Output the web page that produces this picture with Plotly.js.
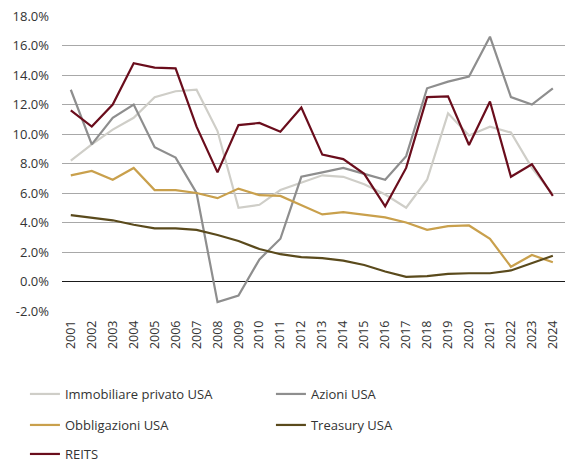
<!DOCTYPE html>
<html>
<head>
<meta charset="utf-8">
<script src="https://cdn.plot.ly/plotly-3.0.1.min.js"></script>
<style>
  html, body { margin: 0; padding: 0; background: #fff; }
  #chart { width: 580px; height: 475px; }
</style>
</head>
<body>
<div id="chart"></div>
<script>
// Rendimenti annui (%) per classe di attivita, 2001-2024
const years = ['2001', '2002', '2003', '2004', '2005', '2006', '2007', '2008', '2009', '2010', '2011', '2012',
               '2013', '2014', '2015', '2016', '2017', '2018', '2019', '2020', '2021', '2022', '2023', '2024'];

const immobiliarePrivato = [8.2, 9.3, 10.3, 11.1, 12.5, 12.9, 13.0, 10.2, 5.0, 5.2, 6.2, 6.7,
                            7.2, 7.1, 6.6, 5.9, 5.0, 6.9, 11.4, 9.9, 10.5, 10.1, 7.7, 5.9];
const azioni = [13.0, 9.3, 11.1, 12.0, 9.1, 8.4, 6.0, -1.4, -0.95, 1.5, 2.9, 7.1,
                7.4, 7.7, 7.3, 6.9, 8.5, 13.1, 13.55, 13.9, 16.6, 12.5, 12.0, 13.1];
const obbligazioni = [7.2, 7.5, 6.9, 7.7, 6.2, 6.2, 6.0, 5.65, 6.3, 5.85, 5.8, 5.2,
                      4.55, 4.7, 4.5, 4.35, 4.0, 3.5, 3.75, 3.8, 2.9, 1.0, 1.8, 1.3];
const treasury = [4.5, 4.35, 4.15, 3.85, 3.6, 3.6, 3.5, 3.15, 2.75, 2.2, 1.85, 1.65,
                  1.58, 1.42, 1.12, 0.68, 0.32, 0.36, 0.52, 0.56, 0.56, 0.75, 1.25, 1.75];
const reits = [11.6, 10.5, 12.0, 14.8, 14.5, 14.45, 10.5, 7.4, 10.6, 10.75, 10.15, 11.8,
               8.6, 8.3, 7.3, 5.1, 7.7, 12.5, 12.55, 9.25, 12.2, 7.1, 7.95, 5.8];

const yTicks = [-2, 0, 2, 4, 6, 8, 10, 12, 14, 16, 18];

const FONT = 'Open Sans, DejaVu Sans, sans-serif';
const TEXT_COLOR = '#333333';

function line(name, y, color, legend) {
    return {
        x: years,
        y: y,
        name: name,
        type: 'scatter',
        mode: 'lines',
        line: { color: color, width: 2.2 },
        legend: legend,
        hoverinfo: 'skip'
    };
}

const traces = [
    line('Immobiliare privato USA', immobiliarePrivato, '#cfcec8', 'legend'),
    line('Azioni USA', azioni, '#8e8e8e', 'legend'),
    line('Obbligazioni USA', obbligazioni, '#c9a04c', 'legend2'),
    line('Treasury USA', treasury, '#5a4a1c', 'legend2'),
    line('REITS', reits, '#6a0d1c', 'legend3')
];

// one legend per row, so the rows can sit as far apart as in the original
function legendRow(yPx) {
    return {
        orientation: 'h',
        xref: 'container',
        yref: 'container',
        x: 0.043,
        xanchor: 'left',
        y: 1 - yPx / 475,
        yanchor: 'middle',
        entrywidth: 201,
        entrywidthmode: 'pixels',
        itemwidth: 30,
        font: { family: FONT, size: 13, color: TEXT_COLOR },
        bgcolor: 'rgba(0,0,0,0)'
    };
}

const layout = {
    width: 580,
    height: 475,
    paper_bgcolor: '#ffffff',
    plot_bgcolor: '#ffffff',
    font: { family: FONT, size: 13, color: TEXT_COLOR },
    margin: { t: 16, b: 164, l: 62, r: 15 },
    showlegend: true,
    legend: legendRow(394),
    legend2: legendRow(425),
    legend3: legendRow(454),
    xaxis: {
        type: 'category',
        range: [-0.42, 23.58],
        tickangle: -90,
        ticks: '',
        showgrid: false,
        zeroline: false,
        showline: false,
        ticklabelstandoff: 6,
        tickfont: { family: FONT, size: 12.5, color: TEXT_COLOR }
    },
    yaxis: {
        range: [-2, 18],
        tickvals: yTicks,
        ticktext: yTicks.map(v => v.toFixed(1) + '%'),
        ticks: '',
        showgrid: true,
        gridcolor: '#a8a8a8',
        gridwidth: 1,
        zeroline: true,
        zerolinecolor: '#1a1a1a',
        zerolinewidth: 1.2,
        showline: false,
        ticklabelstandoff: 12,
        tickfont: { family: FONT, size: 13, color: TEXT_COLOR }
    }
};

Plotly.newPlot('chart', traces, layout, { displayModeBar: false, staticPlot: true });
</script>
</body>
</html>
